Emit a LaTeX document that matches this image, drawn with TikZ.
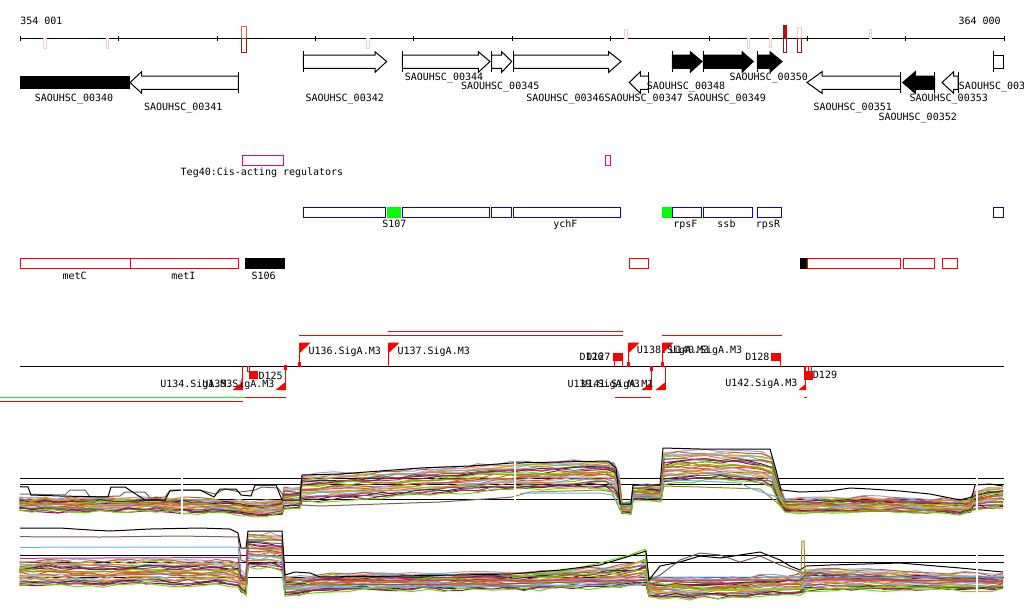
\documentclass[tikz,border=0pt]{standalone}
\usepackage{fontspec}
\newfontfamily\monof{DejaVu Sans Mono}
\definecolor{pal0}{HTML}{E0602A}
\definecolor{pal1}{HTML}{A08C1E}
\definecolor{pal2}{HTML}{66E000}
\definecolor{pal3}{HTML}{C02C8C}
\definecolor{pal4}{HTML}{7F5F4F}
\definecolor{pal5}{HTML}{6AB0E8}
\definecolor{pal6}{HTML}{E8A0A0}
\definecolor{pal7}{HTML}{A0A0D8}
\definecolor{pal8}{HTML}{D05020}
\definecolor{pal9}{HTML}{B4A000}
\definecolor{pal10}{HTML}{8B1A4A}
\definecolor{pal11}{HTML}{303030}
\definecolor{pal12}{HTML}{F07830}
\definecolor{pal13}{HTML}{A0C000}
\definecolor{pal14}{HTML}{C06040}
\definecolor{pale}{HTML}{F8CFC2}
\definecolor{mkred}{HTML}{F06048}
\definecolor{dkred}{HTML}{B01010}
\definecolor{pureblue}{HTML}{0000FF}
\tikzset{
  gl/.style={line width=0.75pt, draw=black},
  lbl/.style={font=\monof\fontsize{7.5}{8}\selectfont, inner sep=0pt, anchor=base, text=black},
  lblw/.style={lbl, anchor=base west},
  dl/.style={line width=0.75pt},
  rd/.style={line width=0.75pt, draw=red},
  bx/.style={line width=0.75pt, draw=pureblue},
}
\newcommand\fgene[4]{%
  \draw[gl, fill=#4] (#1,55) -- (#2,55) -- (#2,51.7) -- (#3,61.5) -- (#2,72.3) -- (#2,68.3) -- (#1,68.3) -- cycle;
  \draw[gl] (#1,50.7) -- (#1,72.3);}
\newcommand\rgene[4]{%
  \draw[gl, fill=#4] (#3,76) -- (#2,76) -- (#2,71.7) -- (#1,82.5) -- (#2,93.3) -- (#2,89.3) -- (#3,89.3) -- cycle;
  \draw[gl] (#3,71.7) -- (#3,93.3);}
\newcommand\upflag[1]{%
  \draw[rd] (#1,343.3) -- (#1,366);
  \fill[red] (#1,342.7) -- (#1+11,342.7) -- (#1,353.3) -- cycle;}
\newcommand\dnflag[1]{%
  \draw[rd] (#1,366) -- (#1,390);
  \fill[red] (#1,390) -- (#1-10,390) -- (#1,382) -- cycle;}
\newcommand\drawbundle[4]{%
  \foreach \k in {1,...,#1}{%
    \pgfmathsetmacro\ff{(\k-0.5)/#1}%
    \pgfmathtruncatemacro\ci{mod(\k*7,15)}%
    \draw[dl, color=pal\ci] (20,{#3+\ff*(#4-#3)}) \foreach \xa/\ta/\ba in #2 { -- (\xa,{\ta+\ff*(\ba-\ta)+2.0*rand}) };
  }}
\def\ptop{20/497/511, 32/498/512, 45/497/511, 58/498/512, 72/497/512, 86/498/512, 100/497/511, 114/498/512, 128/497/512, 142/498/512, 156/497/511, 170/498/512, 184/498/513, 198/498/513, 212/499/513, 226/499/514, 240/500/515, 250/502/517, 266/501/515, 282/500/514, 284/487/510, 300/487/509, 302/474/502, 318/474/501, 334/473/500, 350/472/499, 366/472/499, 382/471/498, 398/470/497, 414/469/496, 430/468/495, 446/467/494, 462/466/493, 478/465/492, 494/464/491, 510/463/490, 526/462/490, 542/462/490, 558/461/489, 574/460/488, 590/460/488, 606/459/488, 614/462/492, 619/475/500, 622/502/513, 631/502/513, 633/486/501, 647/485/500, 661/486/501, 664/452/484, 678/451/483, 692/450/482, 706/450/481, 720/451/481, 734/451/482, 748/452/483, 762/453/485, 772/456/489, 779/482/504, 785/498/512, 800/499/513, 816/498/512, 832/498/513, 848/497/512, 864/497/512, 880/497/512, 896/498/512, 912/498/513, 928/499/513, 944/499/514, 960/500/514, 970/500/513, 974/492/509, 988/488/507, 1003/487/506}
\def\pbot{20/560/586, 34/560/586, 48/559/585, 62/560/586, 76/560/586, 90/561/587, 104/561/587, 118/560/586, 132/560/585, 146/559/585, 160/559/585, 174/560/586, 188/560/586, 202/560/586, 216/560/585, 230/560/586, 238/562/587, 241/574/592, 246/576/594, 248/533/568, 258/534/569, 270/533/568, 282/535/570, 285/577/595, 300/577/595, 316/575/592, 332/574/591, 348/574/590, 364/573/590, 380/573/590, 396/573/590, 412/574/590, 428/573/589, 444/574/590, 460/573/590, 476/573/590, 492/573/589, 508/572/590, 524/572/590, 540/571/590, 556/570/589, 572/569/588, 588/568/588, 604/567/588, 620/565/588, 636/561/587, 646/558/586, 649/578/598, 662/578/598, 676/577/598, 690/578/599, 704/578/598, 718/578/598, 732/577/597, 746/577/597, 760/576/596, 774/575/596, 788/575/595, 800/574/594, 806/570/591, 820/568/590, 836/569/590, 852/569/590, 868/570/590, 884/570/590, 900/571/590, 916/572/590, 932/573/590, 948/573/590, 964/573/590, 978/574/590, 992/574/590, 1003/574/590}
\begin{document}
\begin{tikzpicture}[x=0.75pt,y=-0.75pt]
\pgfmathsetseed{7}
\useasboundingbox (0,0) rectangle (1024,611);
\fill[white] (0,0) rectangle (1024,611);
% ---------- ruler ----------
\draw[gl] (20,38.5) -- (1003.7,38.5);
\foreach \i in {0,...,10} \draw[gl] ({20.5+98.37*\i},35.5) -- ({20.5+98.37*\i},41);
\node[lblw] (r0) at (20,24) {354 001};
\node[lbl, anchor=base east] (r1) at (1001,24) {364 000};
\foreach \a/\b/\c/\d in {43.5/38.5/46.5/48.5, 106.5/38.5/108.5/48.5, 366.5/38.5/369.5/48.5, 624.5/29.5/627.5/38.5, 747.5/38.5/749.5/48.5, 769.5/38.5/771.5/47.5, 869.5/29.5/871.5/38.5, 797.5/27.5/801.5/38.5}
  \draw[line width=0.75pt, draw=pale] (\a,\b) rectangle (\c,\d);
\draw[line width=0.75pt, draw=mkred] (241.5,26.5) rectangle (246.5,38.5);
\draw[line width=0.75pt, draw=dkred] (241.5,38.5) rectangle (246.5,52.5);
\draw[line width=0.75pt, draw=dkred, fill=dkred] (783.5,25.5) rectangle (786.5,38.5);
\draw[line width=0.75pt, draw=dkred] (783.5,38.5) rectangle (786.5,52.5);
\draw[line width=0.75pt, draw=dkred] (797.5,38.5) rectangle (801.5,52.5);
% ---------- genes ----------
\fill[black] (20,76) rectangle (130,89.3);
\rgene{130}{141.7}{238.3}{white}
\fgene{303.3}{375}{386.7}{white}
\fgene{402.3}{478.3}{490}{white}
\fgene{491.7}{501.7}{511.7}{white}
\fgene{513.7}{608.7}{621}{white}
\rgene{629.3}{640.3}{648.7}{white}
\fgene{672.3}{690.3}{702}{black}
\fgene{703.3}{742}{753.3}{black}
\fgene{757.3}{770}{782}{black}
\rgene{807}{822}{900.7}{white}
\rgene{902.7}{915.3}{934.7}{black}
\rgene{942}{953.7}{958}{white}
\draw[gl] (993.7,55) rectangle (1003.7,68.3);
\draw[gl] (993.7,50.7) -- (993.7,72.3);
\node[lbl] (g340) at (74,101.7) {SAOUHSC\_00340};
\node[lbl] (g341) at (183.3,110.7) {SAOUHSC\_00341};
\node[lbl] (g342) at (344.7,101.7) {SAOUHSC\_00342};
\node[lbl] (g344) at (444,80) {SAOUHSC\_00344};
\node[lbl] (g345) at (500.2,89.3) {SAOUHSC\_00345};
\node[lbl] (g346) at (565.5,101.3) {SAOUHSC\_00346};
\node[lbl] (g347) at (643.7,101.3) {SAOUHSC\_00347};
\node[lbl] (g348) at (686,89.3) {SAOUHSC\_00348};
\node[lbl] (g349) at (726.7,101.3) {SAOUHSC\_00349};
\node[lbl] (g350) at (768.7,80) {SAOUHSC\_00350};
\node[lbl] (g351) at (852.7,110.3) {SAOUHSC\_00351};
\node[lbl] (g352) at (917.7,120.3) {SAOUHSC\_00352};
\node[lbl] (g353) at (948.7,101.3) {SAOUHSC\_00353};
\node[lblw] (g354) at (958.7,89.3) {SAOUHSC\_003};
% ---------- Teg40 ----------
\draw[line width=0.75pt, draw=magenta] (242.5,155.5) rectangle (283.5,165.5);
\draw[line width=0.75pt, draw=magenta] (605.5,155.5) rectangle (610.5,165.5);
\node[lbl] (teg) at (262,175) {Teg40:Cis-acting regulators};
% ---------- blue operons ----------
\foreach \a/\b in {303.5/385.5, 402.5/489.5, 491.5/511.5, 513.5/620.5, 672.5/701.5, 703.5/752.5, 757.5/781.5, 993.5/1003.5}
  \draw[bx] (\a,207.5) rectangle (\b,217.5);
\fill[green] (387,207) rectangle (401,218);
\fill[green] (662,207) rectangle (672,218);
\node[lbl] (s107) at (394.3,227.3) {S107};
\node[lbl] (ychf) at (565.3,227.3) {ychF};
\node[lbl] (rpsf) at (685.3,227.3) {rpsF};
\node[lbl] (ssb) at (726.5,227.3) {ssb};
\node[lbl] (rpsr) at (768,227.3) {rpsR};
% ---------- red row ----------
\foreach \a/\b in {20.5/130.5, 130.5/238.5, 629.5/648.5, 807.5/900.5, 903.5/934.5, 942.5/957.5}
  \draw[rd] (\a,258.5) rectangle (\b,268.5);
\fill[black] (245,258) rectangle (285,269);
\fill[black] (800,258) rectangle (807,269);
\node[lbl] (metc) at (74.7,279) {metC};
\node[lbl] (meti) at (183.3,279) {metI};
\node[lbl] (s106) at (263.7,279) {S106};
% ---------- promoters ----------
\draw[rd] (299,335.5) -- (622.7,335.5);
\draw[rd] (388.3,331.5) -- (622.7,331.5);
\draw[rd] (662.3,335.5) -- (781.7,335.5);
\draw[gl] (20,366.5) -- (1003.7,366.5);
\upflag{299.5} \upflag{388.5} \upflag{628.5} \upflag{662.5}
\foreach \x in {299.5,628.5,662.5} \fill[red] (\x-1.5,361.5) rectangle (\x+1.5,366.5);
\dnflag{242.5} \dnflag{285.5} \dnflag{651.5} \dnflag{665.5}
\draw[rd] (805.5,366) -- (805.5,390);
\fill[red] (805.5,390) -- (798.5,390) -- (805.5,384) -- cycle;
\fill[red] (284,365) rectangle (287,370);
\draw[line width=0.6pt, draw=red] (247.5,366.5) rectangle (249.5,371.5);
\draw[line width=0.6pt, draw=red] (650.5,366.5) rectangle (652.5,370.5);
\draw[line width=0.6pt, draw=red] (804.5,366.5) rectangle (808,371.5);
\draw[line width=0.6pt, draw=red] (808,366.5) rectangle (811.5,371.5);
\fill[red] (249.3,371) rectangle (258.3,379.3);
\fill[red] (613.3,353) rectangle (623.3,361.3);
\draw[rd] (614.5,361) -- (614.5,366.5);
\draw[rd] (622.5,361) -- (622.5,366.5);
\fill[red] (771,353) rectangle (781,361.3);
\draw[rd] (780.5,361) -- (780.5,366.5);
\fill[red] (804.3,371.3) rectangle (812.7,379.7);
\node[lblw] (u136) at (308.3,354) {U136.SigA.M3};
\node[lblw] (u137) at (397.3,354) {U137.SigA.M3};
\node[lblw] (u138) at (636.7,353.5) {U138.SigA.M3};
\node[lblw] (u140) at (669.7,353.5) {U140.SigA.M3};
\node[lblw] (d126) at (579.3,360.7) {D126};
\node[lblw] (d127) at (586,360.7) {D127};
\node[lblw] (d128) at (745,360.7) {D128};
\node[lblw] (u134) at (160,387.3) {U134.SigA.M3};
\node[lblw] (u135) at (202,387.3) {U135.SigA.M3};
\node[lblw] (d125) at (258.3,379.3) {D125};
\node[lblw] (u139) at (567.3,387) {U139.SigA.M3};
\node[lblw] (u141) at (581,387) {U141.SigA.M1};
\node[lblw] (u142) at (725,386.3) {U142.SigA.M3};
\node[lblw] (d129) at (812.7,378.7) {D129};
\draw[line width=0.75pt, draw=green] (0,397.5) -- (245,397.5);
\draw[rd] (0,401.5) -- (243.3,401.5);
\draw[rd] (245,397.5) -- (285.7,397.5);
\draw[rd] (615,397.5) -- (650.7,397.5);
\draw[rd] (804.3,397.5) -- (806.7,397.5);
% ---------- expression panels ----------
\foreach \y in {478.5,484.5,499.5,555.5,562.5,577.5} \draw[gl] (20,\y) -- (1003.7,\y);
\drawbundle{26}{\ptop}{497}{511}
\drawbundle{26}{\pbot}{560}{586}
% top outliers
\draw[dl, pal1] (512,497)--(530,492)--(600,490)--(612,492)--(620,510)--(631,510)--(633,497)--(660,498)--(664,486)--(700,487)--(760,489)--(780,505)--(800,512)--(900,511)--(1003,508);
\draw[dl, pal5] (520,493)--(600,493)--(612,495)--(620,505)--(631,505)--(633,497)--(660,497)--(664,480)--(700,481)--(740,483)--(750,488)--(770,495)--(790,500);
\draw[dl, pal4] (20,494)--(65,495)--(70,490)--(85,490)--(90,497)--(120,496)--(125,492)--(145,492)--(150,498)--(165,497)--(170,490)--(181,490)--(200,490)--(215,494)--(225,489)--(240,492)--(255,490)--(262,487)--(278,488)--(283,495)--(300,495)--(302,505)--(320,506)--(380,504)--(440,502)--(500,498)--(512,497);
\draw[dl, black] (20,486.7)--(28,487)--(31,495)--(60,496)--(108,497)--(111,487)--(125,487)--(131,491)--(145,500)--(165,500)--(170,491)--(181,490)--(200,490)--(214,497)--(220,489)--(236,489)--(241,495)--(251,496)--(255,485)--(276,485)--(282,500)--(300,500)--(302,475)--(340,474)--(380,471)--(420,468)--(470,466)--(512,463)--(560,462)--(608,461)--(616,468)--(620,504)--(631,504)--(633,485)--(660,485)--(663,448)--(700,449)--(740,449)--(770,449)--(776,470)--(781,490)--(800,492)--(830,491)--(850,488)--(870,489)--(900,491)--(930,494)--(960,500)--(972,497)--(975,485)--(990,484)--(1003,486);
% bottom outliers
\draw[dl, pal4] (20,536.7)--(100,537)--(180,536)--(238,537)--(241,560)--(246,562)--(248,540)--(282,540)--(285,585)--(500,584)--(648,580)--(660,575)--(680,560)--(700,553)--(720,555)--(740,562)--(760,556)--(780,565)--(800,572)--(900,580)--(1003,582);
\draw[dl, pal5] (20,547.3)--(120,547)--(238,547)--(241,570)--(246,575)--(248,556)--(282,556)--(285,588)--(640,585)--(648,577)--(1003,577);
\draw[dl, pal3] (20,558.3)--(238,557.5)--(241,575)--(246,578)--(248,548)--(282,548)--(285,580)--(1003,580);
\draw[dl, pal2] (512,578)--(560,572)--(600,563)--(630,555)--(645,549)--(648,582)--(700,590)--(1003,586);
\draw[dl, black] (20,528)--(60,528)--(90,530)--(110,531)--(150,529)--(200,528)--(230,529)--(238,533)--(241,548)--(246,548)--(248,531)--(282,531)--(285,575)--(295,572)--(310,573)--(320,577)--(400,576)--(512,574)--(560,570)--(600,565)--(640,553)--(646,551)--(649,580)--(660,566)--(680,562)--(700,556)--(720,558)--(740,555)--(760,552)--(780,560)--(790,566)--(800,570)--(806,566)--(830,565)--(900,563)--(960,568)--(1003,572);
\draw[dl, pal1] (795,575)--(801,572)--(802,541)--(804,541)--(805,575)--(812,574);
% gaps
\fill[white] (181,440) rectangle (183,525);
\fill[white] (514,440) rectangle (515.7,525);
\fill[white] (976,440) rectangle (978,605);
\end{tikzpicture}
\end{document}
